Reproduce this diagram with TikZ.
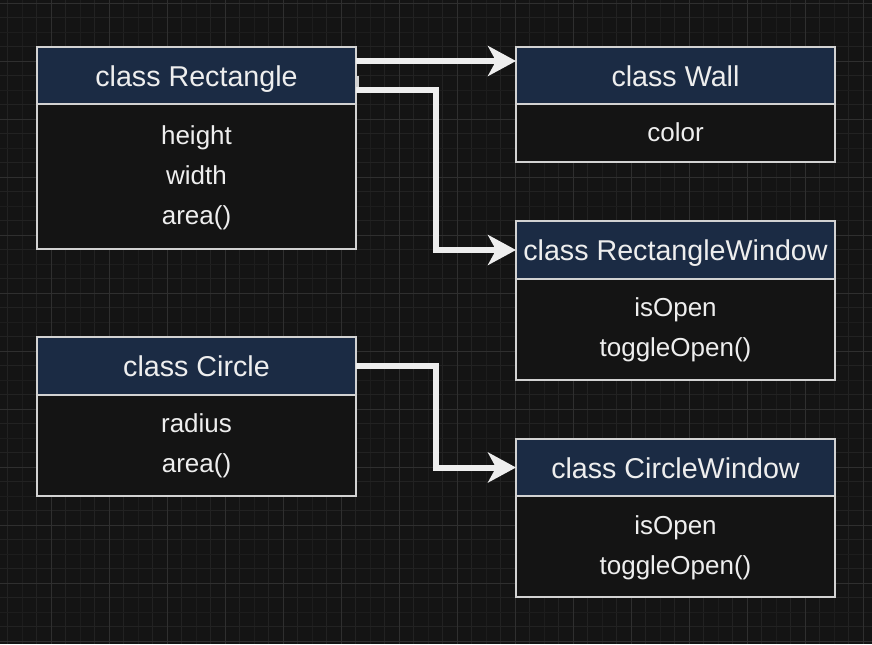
\documentclass[tikz,border=0pt]{standalone}
\usepackage{fontspec}
\setmainfont{Liberation Sans}
\usetikzlibrary{arrows.meta,calc}
\definecolor{bg}{HTML}{141414}
\definecolor{gridminor}{HTML}{222222}
\definecolor{gridmajor}{HTML}{2F2F2F}
\definecolor{griddot}{HTML}{1D1D1D}
\definecolor{hdr}{HTML}{1B2B44}
\definecolor{bord}{HTML}{D2D2D2}
\definecolor{txt}{HTML}{EEEEEE}
\definecolor{connc}{HTML}{EEEEEE}
\begin{document}
\begin{tikzpicture}[x=0.75pt,y=-0.75pt,
  boxbody/.style={draw=bord, line width=1.1pt, fill=bg, anchor=north west, minimum width=239.25pt, inner sep=0pt, outer sep=0pt},
  boxhead/.style={draw=bord, line width=1.1pt, fill=hdr, anchor=north west, minimum width=239.25pt, inner sep=0pt, outer sep=0pt},
  htext/.style={text=txt, font=\fontsize{21.5}{24}\selectfont, anchor=base, inner sep=0pt},
  btext/.style={text=txt, font=\fontsize{19.5}{22}\selectfont, anchor=base, inner sep=0pt},
  connector/.style={draw=connc, line width=4.5pt, -{Stealth[length=21pt,width=22.5pt,inset=6pt]}},
  stubline/.style={draw=bord, line width=1.2pt},
  gmin/.style={draw=gridminor, line width=0.75pt},
  gdot/.style={draw=griddot, line width=0.75pt},
  gmaj/.style={draw=gridmajor, line width=0.75pt},
]
\useasboundingbox (0,0) rectangle (872,644);
\fill[bg] (0,0) rectangle (872,644);
% grid
\foreach \k in {0,...,15} {
  \draw[gdot] ({22.3+58*\k},0) -- ++(0,644);
  \draw[gmin] ({7.8+58*\k},0) -- ++(0,644);
  \draw[gmin] ({36.8+58*\k},0) -- ++(0,644);
}
\foreach \k in {0,...,11} {
  \draw[gdot] (0,{32.3+58*\k}) -- ++(872,0);
  \draw[gmin] (0,{17.8+58*\k}) -- ++(872,0);
  \draw[gmin] (0,{46.8+58*\k}) -- ++(872,0);
}
\foreach \k in {0,...,15} \draw[gmaj] ({-6.7+58*\k},0) -- ++(0,644);
\foreach \k in {0,...,11} \draw[gmaj] (0,{3.3+58*\k}) -- ++(872,0);

% class Rectangle
\node[boxbody, minimum height=151.5pt] (rect) at (37,47) {};
\node[boxhead, minimum height=42.75pt] (recth) at (37,47) {};
\node[htext] (rectt) at (196.5,86) {class Rectangle};
\node[btext] (rect1) at (196.5,144) {height};
\node[btext] (rect2) at (196.5,184) {width};
\node[btext] (rect3) at (196.5,224) {area()};

% class Wall
\node[boxbody, minimum height=86.25pt] (wall) at (516,47) {};
\node[boxhead, minimum height=42.75pt] (wallh) at (516,47) {};
\node[htext] (wallt) at (675.5,86) {class Wall};
\node[btext] (wall1) at (675.5,141) {color};

% class RectangleWindow
\node[boxbody, minimum height=119.25pt] (rw) at (516,221) {};
\node[boxhead, minimum height=43.5pt] (rwh) at (516,221) {};
\node[htext] (rwt) at (675.5,260.5) {class RectangleWindow};
\node[btext] (rw1) at (675.5,316) {isOpen};
\node[btext] (rw2) at (675.5,356) {toggleOpen()};

% class Circle
\node[boxbody, minimum height=119.25pt] (cir) at (37,337) {};
\node[boxhead, minimum height=43.5pt] (cirh) at (37,337) {};
\node[htext] (cirt) at (196.5,376.5) {class Circle};
\node[btext] (cir1) at (196.5,432) {radius};
\node[btext] (cir2) at (196.5,472) {area()};

% class CircleWindow
\node[boxbody, minimum height=118.5pt] (cw) at (516,439) {};
\node[boxhead, minimum height=42.75pt] (cwh) at (516,439) {};
\node[htext] (cwt) at (675.5,478) {class CircleWindow};
\node[btext] (cw1) at (675.5,534) {isOpen};
\node[btext] (cw2) at (675.5,574) {toggleOpen()};

% connectors
\draw[connector] ($(recth.north east)+(0,14)$) -- ($(wallh.north west)+(0,14)$);
\draw[stubline] ($(recth.north east)+(2,29)$) -- ++(0,14);
\draw[connector] ($(recth.north east)+(0,43)$) -- ++(79.5,0) |- (rwh.west);
\draw[connector] (cirh.east) -- ++(79.5,0) |- (cwh.west);
\end{tikzpicture}
\end{document}
